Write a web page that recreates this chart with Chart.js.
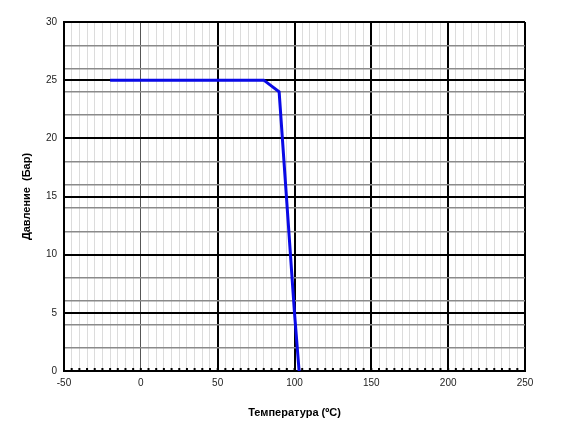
<!DOCTYPE html>
<html>
<head>
<meta charset="utf-8">
<script src="https://cdn.jsdelivr.net/npm/chart.js@4/dist/chart.umd.min.js"></script>
<style>
  html, body { margin: 0; padding: 0; background: #fff; }
  #wrap { width: 562px; height: 433px; }
</style>
</head>
<body>
<div id="wrap"><canvas id="chart" width="562" height="433"></canvas></div>
<script>
// Curve: temperature (°C) vs pressure (bar)
const temperatures = [-20, 80, 90, 100, 103];
const pressures = [25, 25, 24, 5, 0];

// Axis ranges and labels
const xMin = -50, xMax = 250, xStep = 5, xLabelStep = 50;
const yMin = 0, yMax = 30, yStep = 1, yLabelStep = 5;
const xTitle = 'Температура (ºC)';
const yTitle = 'Давление  (Бар)';

const points = temperatures.map((t, i) => ({ x: t, y: pressures[i] }));

// small tick marks drawn inward on the bottom axis
const innerTicks = {
    id: 'innerTicks',
    afterDatasetsDraw(chart) {
        const ctx = chart.ctx;
        const xs = chart.scales.x;
        const bottom = chart.chartArea.bottom;
        ctx.save();
        ctx.strokeStyle = '#000';
        ctx.lineWidth = 2;
        xs.ticks.forEach(t => {
            const px = xs.getPixelForValue(t.value);
            ctx.beginPath();
            ctx.moveTo(px, bottom);
            ctx.lineTo(px, bottom - 3);
            ctx.stroke();
        });
        ctx.restore();
    }
};

new Chart(document.getElementById('chart'), {
    type: 'scatter',
    data: {
        datasets: [{
            data: points,
            showLine: true,
            borderColor: '#0a0ae6',
            borderWidth: 3,
            pointRadius: 0,
            tension: 0
        }]
    },
    options: {
        responsive: false,
        animation: false,
        layout: { padding: { top: 22, right: 37, bottom: 0, left: 0 } },
        plugins: { legend: { display: false }, tooltip: { enabled: false } },
        scales: {
            x: {
                type: 'linear',
                min: xMin,
                max: xMax,
                afterFit: s => { s.height = 62; },
                ticks: {
                    stepSize: xStep,
                    autoSkip: false,
                    maxRotation: 0,
                    padding: 6,
                    color: '#222',
                    font: { family: 'Liberation Sans, Arial', size: 10 },
                    callback: v => (v % xLabelStep === 0 ? v : '')
                },
                grid: {
                    drawTicks: false,
                    color: c => {
                        const v = c.tick.value;
                        if (v === 0) return '#555';
                        if (v % xLabelStep === 0) return '#000';
                        return '#dcdcdc';
                    },
                    lineWidth: c => {
                        const v = c.tick.value;
                        if (v === 0) return 1;
                        return v % xLabelStep === 0 ? 2 : 1;
                    }
                },
                border: { color: '#000', width: 2 },
                title: {
                    display: true,
                    text: xTitle,
                    color: '#000',
                    font: { family: 'Liberation Sans, Arial', size: 11, weight: 'bold' },
                    padding: { top: 0, bottom: 13 }
                }
            },
            y: {
                type: 'linear',
                min: yMin,
                max: yMax,
                afterFit: s => { s.width = 64; },
                ticks: {
                    stepSize: yStep,
                    autoSkip: false,
                    padding: 7,
                    color: '#222',
                    font: { family: 'Liberation Sans, Arial', size: 10 },
                    callback: v => (v % yLabelStep === 0 ? v : '')
                },
                grid: {
                    drawTicks: false,
                    color: c => {
                        const v = c.tick.value;
                        if (v % yLabelStep === 0) return '#000';
                        if (v % 2 === 0) return '#8a8a8a';
                        return 'rgba(0,0,0,0)';
                    },
                    lineWidth: c => (c.tick.value % yLabelStep === 0 ? 2 : 1.5)
                },
                border: { color: '#000', width: 2 },
                title: {
                    display: true,
                    text: yTitle,
                    color: '#000',
                    font: { family: 'Liberation Sans, Arial', size: 11, weight: 'bold' },
                    padding: { top: 20, bottom: 0 }
                }
            }
        }
    },
    plugins: [innerTicks]
});
</script>
</body>
</html>
